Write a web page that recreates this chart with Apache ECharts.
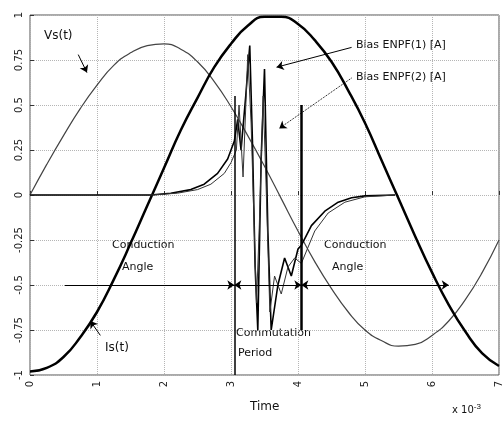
<!DOCTYPE html>
<html><head><meta charset="utf-8">
<script src="https://cdn.jsdelivr.net/npm/echarts@6/dist/echarts.min.js"></script>
<style>html,body{margin:0;padding:0;background:#fff}#c{width:504px;height:421px}</style>
</head><body><div id="c"></div>
<script>
// time samples (x 10^-3)
const tGrid = [0,0.25,0.5,0.75,1,1.25,1.5,1.75,2,2.25,2.5,2.75,3,3.25,3.5,3.75,4,4.25,4.5,4.75,5,5.25,5.5,5.75,6,6.25,6.5,6.75,7];
const vsVals = [0,0.17,0.33,0.48,0.61,0.72,0.79,0.83,0.84,0.81,0.74,0.63,0.49,0.33,0.16,-0.02,-0.2,-0.37,-0.52,-0.65,-0.75,-0.81,-0.84,-0.83,-0.78,-0.70,-0.58,-0.43,-0.25];
const isVals = [-0.98,-0.96,-0.90,-0.79,-0.65,-0.47,-0.27,-0.06,0.15,0.36,0.54,0.71,0.84,0.94,0.99,0.99,0.95,0.86,0.74,0.58,0.40,0.19,-0.02,-0.23,-0.43,-0.61,-0.76,-0.88,-0.95];
const b1T = [0,1,1.8,2.1,2.4,2.6,2.8,2.95,3.05,3.1,3.15,3.22,3.28,3.32,3.36,3.4,3.45,3.5,3.55,3.6,3.7,3.8,3.9,4.0,4.05,4.2,4.4,4.6,4.8,5.0,5.45];
const b1V = [0,0,0,0.01,0.03,0.06,0.12,0.2,0.3,0.42,0.25,0.55,0.83,0.3,-0.4,-0.75,0.2,0.7,-0.2,-0.75,-0.5,-0.35,-0.45,-0.3,-0.28,-0.17,-0.09,-0.04,-0.015,-0.005,0];
const b2T = [0,1,1.8,2.2,2.5,2.7,2.9,3.0,3.08,3.12,3.18,3.25,3.3,3.38,3.42,3.48,3.52,3.58,3.65,3.75,3.85,3.95,4.05,4.25,4.45,4.7,5.0,5.45];
const b2V = [0,0,0,0.01,0.03,0.06,0.12,0.18,0.25,0.5,0.1,0.78,0.4,-0.6,-0.2,0.55,0.1,-0.65,-0.45,-0.55,-0.4,-0.35,-0.38,-0.2,-0.1,-0.04,-0.01,0];
const xTicks = ['0','1','2','3','4','5','6','7'];
const yTicks = ['-1','-0.75','-0.5','-0.25','0','0.25','0.5','0.75','1'];

const pairs = (xs, ys) => xs.map((x, i) => [x, ys[i]]);
const chart = echarts.init(document.getElementById('c'));
const txt = (x, y, s, size) => ({type:'text', left:x, top:y, style:{text:s, font:(size||11)+'px "DejaVu Sans", sans-serif', fill:'#111'}});
chart.setOption({
  animation:false,
  backgroundColor:'#fff',
  grid:{left:30, right:4, top:15, bottom:46, show:true, borderColor:'#555', borderWidth:1},
  xAxis:{type:'value', min:0, max:7, interval:1,
    axisLine:{show:false}, axisTick:{inside:true, length:4, lineStyle:{color:'#333'}},
    splitLine:{show:true, lineStyle:{color:'#b5b5b5', type:'dotted'}},
    axisLabel:{rotate:90, color:'#222', fontSize:10, fontFamily:'DejaVu Sans', margin:6, formatter:v=>xTicks[Math.round(v)]}},
  yAxis:{type:'value', min:-1, max:1, interval:0.25,
    axisLine:{show:false}, axisTick:{inside:true, length:4, lineStyle:{color:'#333'}},
    splitLine:{show:true, lineStyle:{color:'#b5b5b5', type:'dotted'}},
    axisLabel:{rotate:90, color:'#222', fontSize:10, fontFamily:'DejaVu Sans', margin:6, formatter:v=>yTicks[Math.round((v+1)/0.25)]}},
  series:[
    {name:'Vs(t)', type:'line', data:pairs(tGrid, vsVals), smooth:true, showSymbol:false, lineStyle:{color:'#444', width:1.2}},
    {name:'Is(t)', type:'line', data:pairs(tGrid, isVals), smooth:true, showSymbol:false, lineStyle:{color:'#000', width:2.5}},
    {name:'b1', type:'line', data:pairs(b1T, b1V), showSymbol:false, lineStyle:{color:'#000', width:1.6}},
    {name:'b2', type:'line', data:pairs(b2T, b2V), showSymbol:false, lineStyle:{color:'#333', width:1}},
    {name:'annot', type:'line', data:[], markLine:{silent:true, symbolSize:7, label:{show:false},
      lineStyle:{color:'#000', type:'solid', width:1},
      data:[
        [{coord:[0.52,-0.5], symbol:'none'},{coord:[3.05,-0.5], symbol:'arrow'}],
        [{coord:[3.05,-0.5], symbol:'arrow'},{coord:[4.05,-0.5], symbol:'arrow'}],
        [{coord:[4.05,-0.5], symbol:'arrow'},{coord:[6.25,-0.5], symbol:'arrow'}],
        [{coord:[3.05,0.55], symbol:'none'},{coord:[3.05,-1], symbol:'none', lineStyle:{width:1.5}}],
        [{coord:[4.05,0.5], symbol:'none', lineStyle:{width:2.5}},{coord:[4.05,-0.75], symbol:'none'}],
        [{coord:[4.8,0.82], symbol:'none'},{coord:[3.68,0.71], symbol:'arrow'}],
        [{coord:[4.8,0.65], symbol:'none', lineStyle:{type:'dotted'}},{coord:[3.72,0.37], symbol:'arrow'}],
        [{coord:[0.72,0.78], symbol:'none'},{coord:[0.85,0.68], symbol:'arrow'}],
        [{coord:[1.05,-0.78], symbol:'none'},{coord:[0.9,-0.7], symbol:'arrow'}]
      ]}}
  ],
  graphic:[
    txt(44,30,'Vs(t)',12),
    txt(105,342,'Is(t)',12),
    txt(356,40,'Bias ENPF(1) [A]',11),
    txt(356,72,'Bias ENPF(2) [A]',11),
    txt(112,240,'Conduction',11),
    txt(122,262,'Angle',11),
    txt(324,240,'Conduction',11),
    txt(332,262,'Angle',11),
    txt(236,328,'Commutation',11),
    txt(238,348,'Period',11),
    txt(250,401,'Time',12),
    {type:'text', left:452, top:403, style:{text:'x 10{s|-3}', font:'10px "DejaVu Sans", sans-serif', fill:'#111', rich:{s:{fontSize:8, verticalAlign:'top', padding:[0,0,6,0]}}}}
  ]
});
</script></body></html>
